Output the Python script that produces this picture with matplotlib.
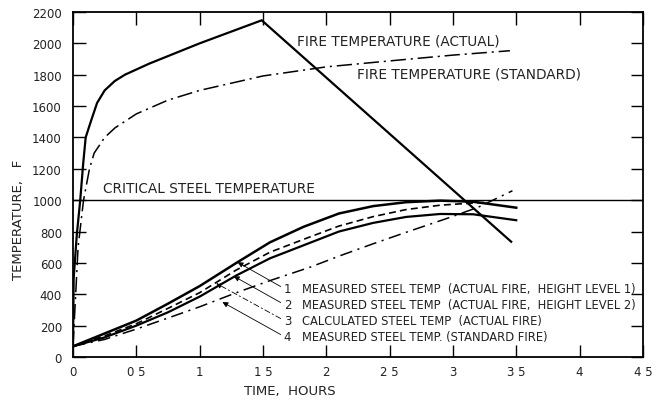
import matplotlib
matplotlib.use("Agg")
import matplotlib.pyplot as plt

plt.rcParams["lines.scale_dashes"] = False
plt.rcParams["font.family"] = ["DejaVu Sans"]

# Fire temperature, actual fire (hours, deg F)
fire_actual_t = [0, 0.005, 0.03, 0.057, 0.08, 0.10, 0.14, 0.19, 0.25, 0.33, 0.41, 0.6, 1.0, 1.49, 3.46]
fire_actual_T = [70, 500, 780, 1000, 1230, 1400, 1500, 1620, 1700, 1760, 1800, 1870, 2000, 2147, 735]

# Fire temperature, standard fire curve
fire_std_t = [0, 0.04, 0.083, 0.13, 0.167, 0.25, 0.333, 0.5, 0.75, 1.0, 1.5, 2.0, 2.5, 3.0, 3.45]
fire_std_T = [68, 700, 1000, 1200, 1300, 1400, 1462, 1550, 1638, 1700, 1792, 1850, 1888, 1925, 1953]

# Steel temperatures
steel_t = [0, 0.25, 0.5, 0.75, 1.0, 1.29, 1.555, 1.82, 2.1, 2.37, 2.63, 2.9, 3.16, 3.5]
steel1_T = [68, 150, 232, 340, 452, 600, 731, 830, 915, 962, 987, 997, 990, 952]
steel2_T = [68, 125, 200, 285, 385, 520, 629, 712, 800, 855, 893, 912, 910, 872]
steel3_t = [0, 0.25, 0.5, 0.75, 1.0, 1.29, 1.555, 1.82, 2.1, 2.37, 2.63, 2.9, 3.16, 3.25]
steel3_T = [68, 135, 212, 310, 410, 555, 668, 750, 835, 895, 940, 968, 982, 985]
steel4_t = [0, 0.25, 0.5, 0.766, 1.0, 1.29, 1.555, 1.87, 2.11, 2.37, 2.63, 2.98, 3.2, 3.47]
steel4_T = [68, 112, 178, 253, 320, 410, 487, 572, 646, 722, 795, 891, 955, 1060]

critical_T = 1000

x_ticks = [0, 0.5, 1, 1.5, 2, 2.5, 3, 3.5, 4, 4.5]
x_labels = ["0", "0 5", "1", "1 5", "2", "2 5", "3", "3 5", "4", "4 5"]
y_ticks = list(range(0, 2201, 200))

steel_labels = [
    "MEASURED STEEL TEMP  (ACTUAL FIRE,  HEIGHT LEVEL 1)",
    "MEASURED STEEL TEMP  (ACTUAL FIRE,  HEIGHT LEVEL 2)",
    "CALCULATED STEEL TEMP  (ACTUAL FIRE)",
    "MEASURED STEEL TEMP. (STANDARD FIRE)",
]

txt = "#222222"
fig = plt.figure(figsize=(6.56, 4.02), dpi=100)
ax = fig.add_axes([0.1113, 0.1095, 0.8687, 0.8582])
ax.set_xlim(0, 4.5)
ax.set_ylim(0, 2200)

ax.plot(fire_actual_t, fire_actual_T, color="black", lw=1.6, solid_joinstyle="miter")
ax.plot(fire_std_t, fire_std_T, color="black", lw=1.1, dashes=(11, 3.5, 1.5, 3.5))
ax.axhline(critical_T, color="black", lw=1.0)

ax.plot(steel_t, steel1_T, color="black", lw=1.8)
ax.plot(steel_t, steel2_T, color="black", lw=1.6)
ax.plot(steel3_t, steel3_T, color="black", lw=1.2, dashes=(5, 3))
ax.plot(steel4_t, steel4_T, color="black", lw=1.1, dashes=(9, 4, 1.5, 4))

# Curve annotations
ax.text(1.77, 2020, "FIRE TEMPERATURE (ACTUAL)", fontsize=9.8, color=txt, va="center")
ax.text(2.24, 1810, "FIRE TEMPERATURE (STANDARD)", fontsize=9.8, color=txt, va="center")
ax.text(0.24, 1075, "CRITICAL STEEL TEMPERATURE", fontsize=9.8, color=txt, va="center")

label_y = [434, 332, 230, 128]
tips = [(1.30, 604), (1.27, 515), (1.13, 470), (1.18, 350)]
arrow_styles = ["-", "-", (0, (4, 2, 1, 2)), "-"]
for i, (lab, ly, tip, ls) in enumerate(zip(steel_labels, label_y, tips, arrow_styles)):
    ax.text(1.665, ly, str(i + 1), fontsize=8.5, color=txt, va="center")
    ax.text(1.81, ly, lab, fontsize=8.3, color=txt, va="center")
    ax.annotate("", xy=tip, xytext=(1.64, ly + 15),
                arrowprops=dict(arrowstyle="-|>", lw=0.6, color="black",
                                mutation_scale=8, linestyle=ls, shrinkA=0, shrinkB=0))

# Axes styling
ax.set_xticks(x_ticks)
ax.set_xticklabels(x_labels)
ax.set_yticks(y_ticks)
ax.tick_params(axis="both", direction="in", length=9, width=1.0, labelsize=8.5,
               colors="black", labelcolor=txt, top=True, right=True)
ax.tick_params(axis="x", pad=6)
ax.tick_params(axis="y", pad=8)
for sp in ax.spines.values():
    sp.set_linewidth(1.3)

ax.set_xlabel("TIME,  HOURS", fontsize=9.5, color=txt)
ax.xaxis.set_label_coords(0.38, -0.078)
ax.set_ylabel("TEMPERATURE,   F", fontsize=9.5, color=txt)
ax.yaxis.set_label_coords(-0.085, 0.4)

fig.savefig("out.png", dpi=100)
